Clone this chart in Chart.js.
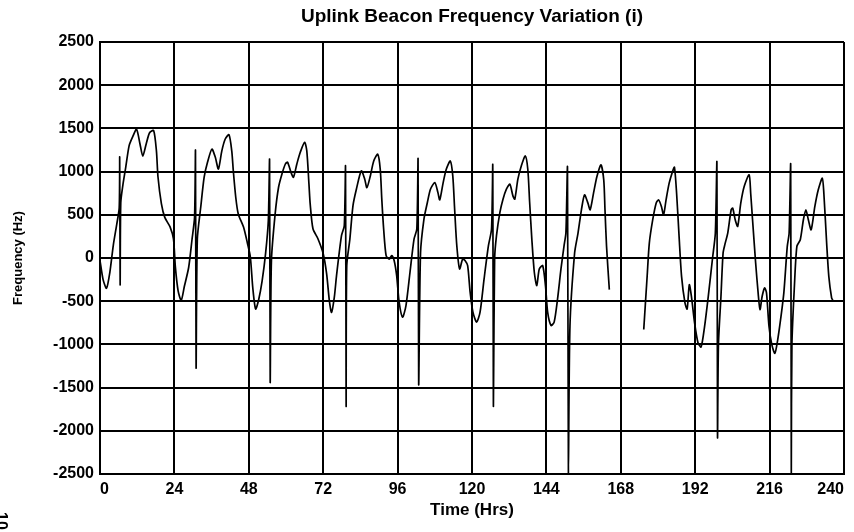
<!DOCTYPE html>
<html lang="en">
<head>
    <meta charset="UTF-8">
    <title>Uplink Beacon Frequency Variation (i)</title>
    <script src="https://cdn.jsdelivr.net/npm/chart.js"></script>
    <style>
        html, body {
            margin: 0;
            padding: 0;
            background: #fff;
        }
        .chart-box {
            width: 854px;
            height: 532px;
        }
    </style>
</head>
<body>
    <div class="chart-box">
        <canvas id="beaconChart"></canvas>
    </div>

    <script>
        // values; a repeated time value is one of the vertical spikes,
        // a null is the gap in the record after 164 hrs
        const timeHrs = [
            0, 1, 2.1, 3.2, 4.3, 5.4, 6.2, 6.35, 6.5, 6.7, 7.4, 8.3, 9.4, 10.5, 11.8, 12.9, 13.8, 14.9, 16, 17.3,
            18.2, 18.7, 19.8, 20.9, 22.6, 23.7, 24.3, 25.2, 26.2, 27.2, 28.6, 29.7, 30.5, 30.8, 31.0, 31.4, 32.5, 33.6,
            34.7, 36.1, 37.2, 38.2, 39.3, 40.4, 41.6, 42.5, 43.0, 43.8, 44.6, 46.3, 47.6, 48.5, 49.3, 50.2, 51.2, 52.3,
            53.4, 54.3, 54.7, 54.9, 55.3, 56.5, 57.6, 58.7, 59.8, 60.5, 61.6, 62.4, 63.5, 64.6, 66.0, 66.7, 67.4, 67.8,
            68.7, 70.3, 72.0, 73.1, 74.0, 74.7, 75.6, 76.3, 77.9, 78.8, 79.2, 79.4, 79.6, 80.6, 81.6, 82.7, 84.3, 85.4,
            86.1, 87.2, 88.3, 89.6, 90.4, 90.9, 91.5, 92.3, 93.3, 94.1, 94.9, 95.7, 96.5, 97.6, 98.7, 100, 101.3, 102.2,
            102.6, 102.8, 103.4, 104.5, 105.6, 106.6, 108, 109, 109.6, 110.7, 111.7, 113, 113.8, 114.4, 115.1, 116,
            117, 117.8, 118.6, 119.4, 120.3, 121.5, 122.6, 123.9, 125.3, 126.3, 126.7, 126.9, 127.3, 127.9, 129, 130,
            131.1, 132.2, 133.2, 133.8, 134.8, 135.9, 137.2, 138, 138.6, 139.3, 140.1, 140.9, 141.7, 142.8, 143.7,
            144.4, 145.5, 146.5, 147.6, 148.7, 149.7, 150.3, 150.8, 151.1, 151.6, 153.1, 154.2, 155.3, 156.3, 157.4,
            158.1, 159.2, 160.3, 161.6, 162.5, 162.9, 163.4, 164.3, 170, 175.4, 176.5, 177.2, 178.3, 179.4, 180.2,
            181.1, 181.8, 182.6, 183.6, 184.7, 185.3, 186, 186.8, 187.6, 188.7, 189.4, 190.1, 190.8, 191.8, 192.9,
            193.9, 195, 196.2, 197.6, 198.5, 199.0, 199.2, 199.5, 200.3, 201.0, 201.6, 202.5, 203.6, 204.1, 204.9,
            205.7, 206.7, 207.8, 209.4, 209.9, 210.5, 211.5, 212.3, 212.9, 213.6, 214.4, 215, 215.8, 216.7, 217.7,
            218.6, 219.6, 220.6, 221.7, 222.3, 222.8, 223.0, 223.2, 224.0, 224.8, 225.9, 226.9, 227.7, 228.5, 229.4,
            230.6, 231.7, 233, 233.5, 234.4, 235.1, 236, 236.4
        ];
        const freqHz = [
            -30, -250, -350, -160, 150, 390, 580, 1165, -308, 640, 850, 1050, 1300, 1400, 1490, 1320, 1180, 1320, 1450, 1475,
            1240, 940, 630, 470, 360, 220, -100, -380, -490, -330, -110, 220, 470, 1240, -1270, 220, 590, 935,
            1110, 1260, 1165, 1030, 1240, 1377, 1427, 1240, 1010, 700, 510, 358, 165, 10, -350, -590, -480, -264,
            47, 435, 1135, -1435, -30, 511, 819, 973, 1088, 1108, 992, 935, 1088, 1223, 1338, 1242, 858, 627,
            338, 223, 50, -181, -500, -630, -450, -204, 258, 373, 1058, -1713, -88, 219, 604, 796, 1008, 912,
            815, 950, 1123, 1200, 1027, 681, 335, 27, -12, 27, -31, -204, -512, -685, -550, -165, 219, 335,
            1142, -1463, 60, 450, 642, 796, 873, 758, 673, 873, 1027, 1123, 950, 565, 142, -127,
            -12, -31, -88, -396, -627, -742, -627, -242, 142, 335, 1073, -1713, -10, 258, 527, 681,
            796, 854, 719, 681, 912, 1065, 1181, 1027, 642, 219, -165, -319, -127, -88, -319,
            -627, -781, -742, -473, -127, 142, 296, 1046, -2500, -789, 58, 289, 558, 731, 635,
            558, 750, 943, 1078, 905, 558, 135, -366, null, -828, -212, 173, 443, 635, 673,
            596, 500, 673, 866, 1001, 1051, 750, 250, -212, -520, -590, -310, -450, -750, -980,
            -1030, -800, -450, 0, 289, 1105, -2070, -1000, -450, 60, 160, 289, 558, 578, 443,
            366, 635, 828, 963, 750, 443, -58, -404, -597, -443, -347, -404, -789, -1000, -1103,
            -950, -697, -400, 135, 289, 1078, -2500, -1000, -327, 135, 212, 443, 558, 443, 327,
            597, 789, 924, 750, 173, -212, -462, -490
        ];
        const timeTicks = [0, 24, 48, 72, 96, 120, 144, 168, 192, 216, 240];
        const freqTicks = [-2500, -2000, -1500, -1000, -500, 0, 500, 1000, 1500, 2000, 2500];

        const FONT = "'Liberation Sans', Arial, Helvetica, sans-serif";
        const points = timeHrs.map((t, i) => ({ x: t, y: freqHz[i] }));

        // title is centred over the plot area, not the whole canvas
        const plotTitle = {
            id: 'plotTitle',
            afterDraw(chart) {
                const ctx = chart.ctx;
                const area = chart.chartArea;
                ctx.save();
                ctx.fillStyle = '#000';
                ctx.font = 'bold 19px ' + FONT;
                ctx.textAlign = 'center';
                ctx.textBaseline = 'middle';
                ctx.fillText('Uplink Beacon Frequency Variation (i)', (area.left + area.right) / 2, 17);

                // page number that shows sideways in the corner of the scan
                ctx.translate(-4, 512);
                ctx.rotate(Math.PI / 2);
                ctx.font = 'bold 16px ' + FONT;
                ctx.textAlign = 'left';
                ctx.textBaseline = 'alphabetic';
                ctx.fillText('10', 0, 0);
                ctx.restore();
            }
        };

        new Chart(document.getElementById('beaconChart'), {
            type: 'line',
            data: {
                datasets: [{
                    label: 'Frequency',
                    data: points,
                    borderColor: '#000',
                    borderWidth: 1.7,
                    pointRadius: 0,
                    tension: 0.25,
                    spanGaps: false,
                    fill: false
                }]
            },
            options: {
                responsive: true,
                maintainAspectRatio: false,
                animation: false,
                layout: {
                    padding: { top: 42, right: 10, left: 0, bottom: 0 }
                },
                plugins: {
                    legend: { display: false },
                    title: { display: false },
                    tooltip: { enabled: false }
                },
                scales: {
                    x: {
                        type: 'linear',
                        min: 0,
                        max: 240,
                        afterBuildTicks: axis => { axis.ticks = timeTicks.map(v => ({ value: v })); },
                        afterFit: scale => { scale.height = 58; },
                        grid: { color: '#000', lineWidth: 2, drawTicks: false },
                        border: { color: '#000', width: 2 },
                        ticks: {
                            color: '#000',
                            padding: 6,
                            maxRotation: 0,
                            align: 'inner',
                            font: { family: FONT, size: 16, weight: 'bold' },
                            callback: v => String(v)
                        },
                        title: {
                            display: true,
                            text: 'Time (Hrs)',
                            color: '#000',
                            font: { family: FONT, size: 17, weight: 'bold' },
                            padding: { top: 0, bottom: 11 }
                        }
                    },
                    y: {
                        min: -2500,
                        max: 2500,
                        afterBuildTicks: axis => { axis.ticks = freqTicks.map(v => ({ value: v })); },
                        afterFit: scale => { scale.width = 100; },
                        grid: { color: '#000', lineWidth: 2, drawTicks: false },
                        border: { color: '#000', width: 2 },
                        ticks: {
                            color: '#000',
                            padding: 6,
                            font: { family: FONT, size: 16, weight: 'bold' },
                            callback: v => String(v)
                        },
                        title: {
                            display: true,
                            text: 'Frequency (Hz)',
                            color: '#000',
                            font: { family: FONT, size: 13, weight: 'bold' },
                            padding: { top: 11, bottom: 0 }
                        }
                    }
                }
            },
            plugins: [plotTitle]
        });
    </script>
</body>
</html>
